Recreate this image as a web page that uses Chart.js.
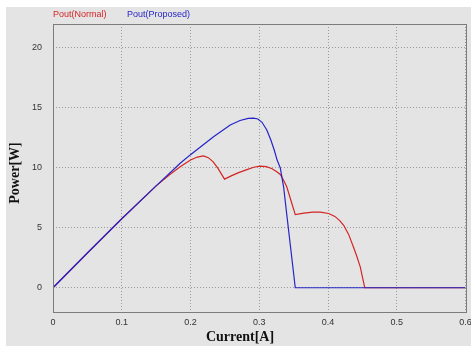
<!DOCTYPE html>
<html>
<head>
<meta charset="utf-8">
<script src="https://cdn.jsdelivr.net/npm/chart.js@4.4.1/dist/chart.umd.min.js"></script>
<style>
  html, body { margin: 0; padding: 0; background: #fff; }
  #wrap { width: 471px; height: 346px; }
</style>
</head>
<body>
<div id="wrap"><canvas id="pvChart" width="471" height="346"></canvas></div>
<script>
// Current [A] / Power [W]
const normalI = [0, 0.05, 0.1, 0.15, 0.17, 0.185, 0.2, 0.21, 0.2189, 0.226, 0.233, 0.24, 0.2495,
                 0.26, 0.27, 0.282, 0.292, 0.3015, 0.31, 0.318, 0.325, 0.3306, 0.336, 0.34, 0.346, 0.3524,
                 0.365, 0.378, 0.3888, 0.401, 0.41, 0.417, 0.4228, 0.43, 0.437, 0.442, 0.447, 0.4534, 0.6];
const normalP = [0, 2.9, 5.75, 8.5, 9.45, 10.09, 10.65, 10.9, 11.0, 10.85, 10.5, 9.95, 9.06,
                 9.35, 9.6, 9.85, 10.05, 10.15, 10.1, 9.95, 9.7, 9.45, 8.9, 8.42, 7.3, 6.1,
                 6.22, 6.3, 6.3, 6.19, 5.95, 5.6, 5.21, 4.45, 3.4, 2.6, 1.72, 0, 0];

const proposedI = [0, 0.05, 0.1, 0.15, 0.185, 0.2, 0.2335, 0.2578, 0.272, 0.284, 0.2917, 0.298,
                   0.304, 0.311, 0.317, 0.322, 0.326, 0.3306, 0.3354, 0.341, 0.3524, 0.6];
const proposedP = [0, 2.9, 5.75, 8.5, 10.38, 11.1, 12.6, 13.58, 13.95, 14.12, 14.15, 14.08,
                   13.8, 13.16, 12.3, 11.45, 10.65, 10.0, 8.42, 5.63, 0, 0];

const xTicks = [0, 0.1, 0.2, 0.3, 0.4, 0.5, 0.6];
const yTicks = [0, 5, 10, 15, 20];
const xTitle = 'Current[A]';
const yTitle = 'Power[W]';

const toPoints = (xs, ys) => xs.map((x, i) => ({ x: x, y: ys[i] }));

// gray panel, plot frame, axis titles and the coloured legend text
const decor = {
    id: 'decor',
    beforeDraw(chart) {
        const ctx = chart.ctx;
        ctx.save();
        ctx.fillStyle = '#e4e4e4';
        ctx.fillRect(6, 7, chart.width - 6, chart.height - 7);
        ctx.restore();
    },
    afterDraw(chart) {
        const ctx = chart.ctx;
        const a = chart.chartArea;
        ctx.save();
        ctx.strokeStyle = '#7c7c7c';
        ctx.lineWidth = 1;
        ctx.strokeRect(Math.round(a.left) + 0.5, Math.round(a.top) + 0.5,
                       Math.round(a.right - a.left), Math.round(a.bottom - a.top));

        ctx.font = '9px "Liberation Sans", Arial, sans-serif';
        ctx.textBaseline = 'middle';
        const xs = [53, 127];
        chart.data.datasets.forEach((ds, i) => {
            ctx.fillStyle = ds.borderColor;
            ctx.fillText(ds.label, xs[i], 15);
        });

        ctx.fillStyle = '#111';
        ctx.textAlign = 'center';
        ctx.font = 'bold 14px "Liberation Serif", "Times New Roman", serif';
        ctx.fillText(xTitle, 240, 337);
        ctx.translate(15, 173);
        ctx.rotate(-Math.PI / 2);
        ctx.fillText(yTitle, 0, 0);
        ctx.restore();
    }
};

const ctx = document.getElementById('pvChart').getContext('2d');
new Chart(ctx, {
    type: 'scatter',
    data: {
        datasets: [
            {
                label: 'Pout(Normal)',
                data: toPoints(normalI, normalP),
                borderColor: '#d42424',
                showLine: true,
                borderWidth: 1.2,
                pointRadius: 0,
                tension: 0,
                order: 2
            },
            {
                label: 'Pout(Proposed)',
                data: toPoints(proposedI, proposedP),
                borderColor: '#2424c8',
                showLine: true,
                borderWidth: 1.2,
                pointRadius: 0,
                tension: 0,
                order: 1
            }
        ]
    },
    options: {
        responsive: false,
        animation: false,
        layout: { padding: { top: 24, right: 5.5, left: 0, bottom: 0 } },
        plugins: {
            legend: { display: false },
            tooltip: { enabled: false }
        },
        scales: {
            x: {
                type: 'linear',
                min: 0,
                max: 0.6,
                afterBuildTicks: s => { s.ticks = xTicks.map(v => ({ value: v })); },
                afterFit: s => { s.height = 34.3; s.paddingLeft = 0; s.paddingRight = 0; },
                border: { display: false, dash: [1, 2] },
                grid: { color: '#9a9a9a', drawTicks: false, lineWidth: 1 },
                ticks: {
                    padding: 5,
                    color: '#333',
                    font: { size: 9, family: '"Liberation Sans", Arial, sans-serif' },
                    callback: v => String(Math.round(v * 10) / 10)
                }
            },
            y: {
                min: -2,
                max: 22,
                afterBuildTicks: s => { s.ticks = yTicks.map(v => ({ value: v })); },
                afterFit: s => { s.width = 53; s.paddingTop = 0; s.paddingBottom = 0; },
                border: { display: false, dash: [1, 2] },
                grid: { color: '#9a9a9a', drawTicks: false, lineWidth: 1 },
                ticks: {
                    padding: 11,
                    color: '#333',
                    font: { size: 9, family: '"Liberation Sans", Arial, sans-serif' }
                }
            }
        }
    },
    plugins: [decor]
});
</script>
</body>
</html>
